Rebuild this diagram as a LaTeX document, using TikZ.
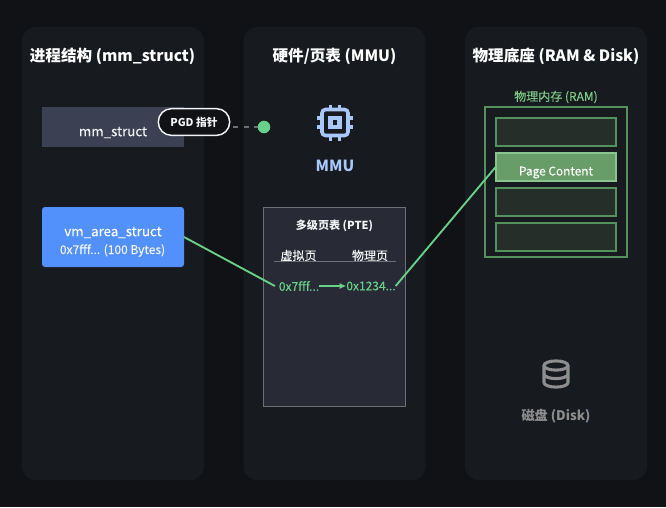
\documentclass[tikz,border=0pt]{standalone}
\usepackage{fontspec}
\setmainfont{Noto Sans}
\newfontfamily\cjk[UprightFeatures={FakeBold=0.25}]{Noto Sans CJK SC}
\usetikzlibrary{arrows.meta}
\definecolor{bgc}{HTML}{101216}
\definecolor{panelc}{HTML}{171A1F}
\definecolor{mmc}{HTML}{3B4152}
\definecolor{bluec}{HTML}{5291FB}
\definecolor{tablec}{HTML}{282A36}
\definecolor{tableb}{HTML}{6C6F76}
\definecolor{greenc}{HTML}{69D08A}
\definecolor{ramb}{HTML}{55905F}
\definecolor{slotc}{HTML}{262E2A}
\definecolor{pagec}{HTML}{689D68}
\definecolor{pageb}{HTML}{8BC48F}
\definecolor{mmuc}{HTML}{A8C7FA}
\definecolor{diskc}{HTML}{8E8E8E}
\definecolor{lightc}{HTML}{F1F3F4}
\definecolor{ramt}{HTML}{7DCB87}
\tikzset{
  every node/.style={inner sep=0pt,outer sep=0pt,font=\cjk},
  panel/.style={fill=panelc,rounded corners=10.5pt,minimum width=136.5pt,minimum height=340pt},
  title/.style={text=white,font=\cjk\bfseries\fontsize{11.7}{14}\selectfont},
  slot/.style={draw=ramb,line width=1.4pt,fill=slotc,minimum width=90.5pt,minimum height=21.5pt},
  conn/.style={draw=greenc,line width=1.4pt},
  small/.style={font=\cjk\fontsize{9}{11}\selectfont},
}
\begin{document}
\begin{tikzpicture}[x=0.75pt,y=-0.75pt]
\useasboundingbox (0,0) rectangle (666,507);
\fill[bgc] (0,0) rectangle (666,507);
% panels
\node[panel] (p1) at (113,253.5) {};
\node[panel] (p2) at (334.5,253.5) {};
\node[panel] (p3) at (556,253.5) {};
\node[title] (t1) at (112.5,56) {进程结构 (mm\_struct)};
\node[title] (t2) at (334.5,56) {硬件/页表 (MMU)};
\node[title] (t3) at (556,56) {物理底座 (RAM \& Disk)};
% left
\node[fill=mmc,minimum width=106.5pt,minimum height=30pt] (mm) at (113,127) {};
\node[text=lightc,font=\cjk\fontsize{10}{12}\selectfont] (mmt) at (113,132.5) {mm\_struct};
\node[fill=bluec,rounded corners=2.2pt,minimum width=106.5pt,minimum height=45pt] (vm) at (113,237) {};
\node[text=white,font=\cjk\fontsize{10}{12}\selectfont] (vmt) at (113,232.5) {vm\_area\_struct};
\node[text=lightc,font=\cjk\fontsize{9}{11}\selectfont] (vmb) at (112.5,250.5) {0x7fff... (100 Bytes)};
% PGD
\node[circle,fill=greenc,minimum size=9.4pt] (dot) at (264,127) {};
\node[draw=lightc,line width=1.1pt,fill=bgc,rounded corners=9.8pt,minimum width=53.5pt,minimum height=20pt] (pgd) at (194,122) {};
\node[text=lightc,font=\cjk\bfseries\fontsize{8.1}{10}\selectfont] (pgdt) at (194,122) {PGD 指针};
\coordinate (pgdr) at (233,127);
\draw[draw=tableb,line width=1.1pt,dash pattern=on 4pt off 4pt] (pgdr) -- (dot);
% MMU icon
\begin{scope}[shift={(335,122.5)}]
  \foreach \s in {-4.5,4.5}{
    \fill[mmuc] (\s-1.6,-18) rectangle (\s+1.6,-12);
    \fill[mmuc] (\s-1.6,12) rectangle (\s+1.6,18);
    \fill[mmuc] (-18,\s-1.6) rectangle (-12,\s+1.6);
    \fill[mmuc] (12,\s-1.6) rectangle (18,\s+1.6);
  }
  \draw[mmuc,line width=2.7pt,fill=panelc,rounded corners=2.6pt] (-13,-13) rectangle (13,13);
  \draw[mmuc,line width=3.4pt] (-4.7,-4.7) rectangle (4.7,4.7);
\end{scope}
\node[text=mmuc,font=\cjk\bfseries\fontsize{11.5}{14}\selectfont] (mmu) at (335,166) {MMU};
% table
\node[draw=tableb,line width=1.2pt,fill=tablec,minimum width=106.5pt,minimum height=149.5pt] (pte) at (334.5,307) {};
\node[text=lightc,font=\cjk\bfseries\fontsize{8.3}{10}\selectfont] (ptet) at (334.5,226) {多级页表 (PTE)};
\node[text=lightc,small] (h1) at (298.5,255.5) {虚拟页};
\node[text=lightc,small] (h2) at (370,255.5) {物理页};
\coordinate (hl) at (273.5,261.5);
\coordinate (hr) at (396,261.5);
\draw[tableb,line width=1.3pt] (hl) -- (hr);
\node[text=greenc,small] (v1) at (299,286) {0x7fff...};
\node[text=greenc,small] (v2) at (371,286) {0x1234...};
% RAM
\node[text=ramt,font=\cjk\fontsize{9}{11}\selectfont] (ramt) at (556,97) {物理内存 (RAM)};
\node[draw=ramb,line width=1.4pt,fill=panelc,minimum width=106pt,minimum height=112pt] (ram) at (556,182) {};
\node[slot] (s1) at (556,132) {};
\node[slot,fill=pagec,draw=pageb] (s2) at (556,167) {};
\node[slot] (s3) at (556,202) {};
\node[slot] (s4) at (556,237) {};
\node[text=white,font=\cjk\fontsize{8.9}{11}\selectfont] (pc) at (556,172.5) {Page Content};
% disk
\begin{scope}[shift={(556,374)},diskc,line width=2.3pt]
  \draw (-12,-8.5) -- (-12,8.5) arc[start angle=180,end angle=0,x radius=12,y radius=4.6] -- (12,-8.5);
  \draw (0,-8.5) ellipse[x radius=12,y radius=4.6];
  \draw (-12,0) arc[start angle=180,end angle=0,x radius=12,y radius=4.6];
\end{scope}
\node[text=diskc,font=\cjk\bfseries\fontsize{9.9}{12}\selectfont] (disk) at (556,416) {磁盘 (Disk)};
% connectors
\draw[conn] (vm.east) -- ([xshift=-3pt]v1.west);
\draw[conn,-{Latex[length=5pt,width=4.5pt]}] (v1.east) -- (v2.west);
\draw[conn] (v2.east) -- (s2.west);
\end{tikzpicture}
\end{document}
